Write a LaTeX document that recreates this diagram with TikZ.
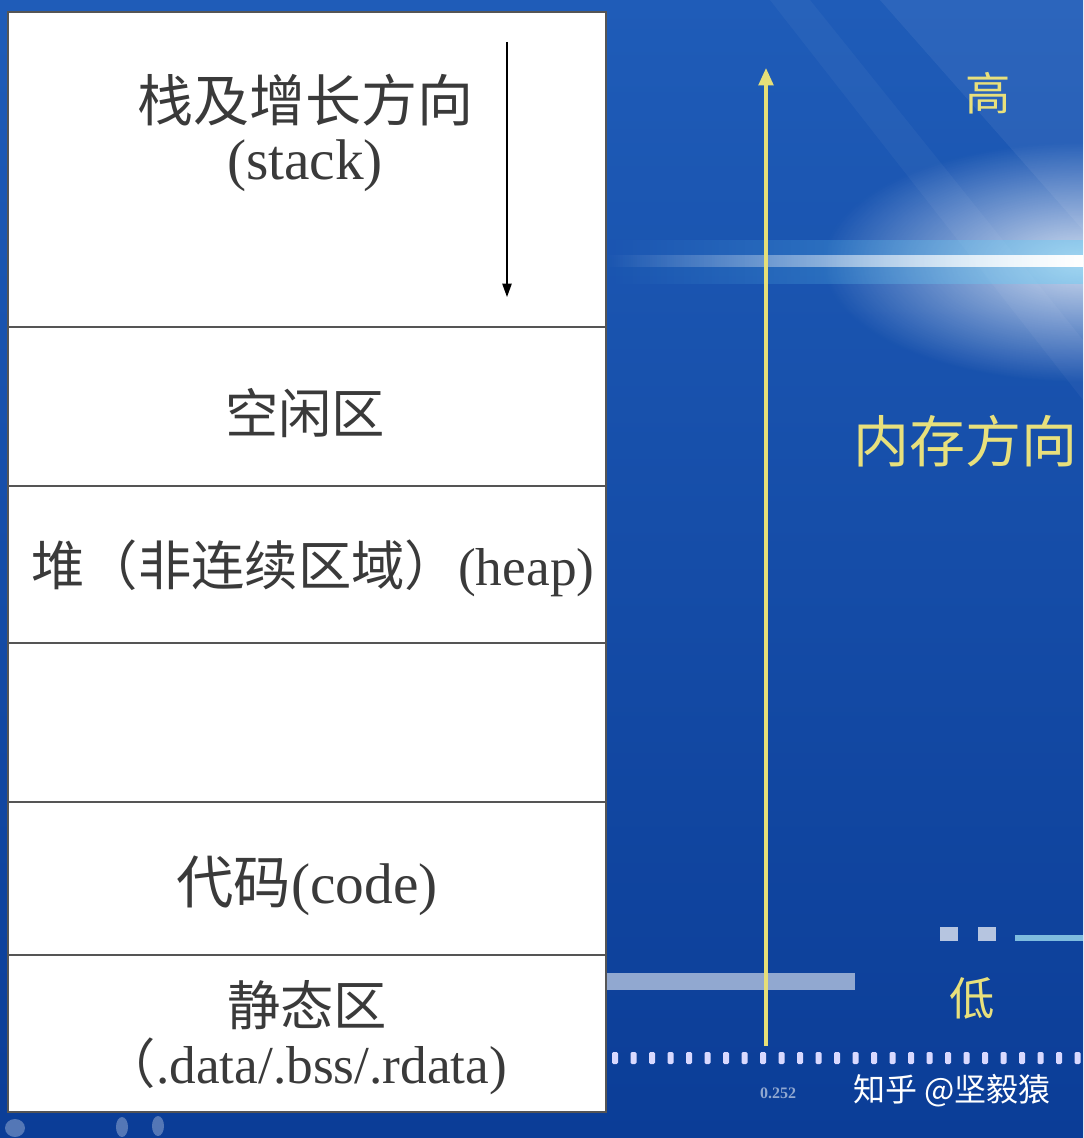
\documentclass[tikz,border=0pt]{standalone}
\usepackage{fontspec}
\setmainfont{Liberation Serif}
\newfontfamily\cjk{Noto Sans CJK SC}
\usetikzlibrary{arrows.meta,fadings}
\definecolor{bgtop}{HTML}{1F5CB8}
\definecolor{bgbot}{HTML}{0B3D97}
\definecolor{boxtext}{HTML}{3A3A3A}
\definecolor{gridline}{HTML}{555555}
\definecolor{axisyellow}{HTML}{E6DF78}
\definecolor{labelyellow}{HTML}{E8E07C}
\tikzfading[name=glowfade, inner color=transparent!0, outer color=transparent!100]
\tikzfading[name=beamfade, left color=transparent!100, right color=transparent!0]
\tikzset{
  region/.style={draw=gridline, line width=1.5pt, fill=white},
  boxlabel/.style={text=boxtext, align=center, inner sep=0pt},
  ylabel/.style={text=labelyellow, inner sep=0pt},
  growarrow/.style={draw=black, line width=1pt, -{Triangle[length=10pt,width=7pt]}},
  memarrow/.style={draw=axisyellow, line width=2.4pt, -{Triangle[length=13pt,width=11pt]}},
  tick/.style={fill=white!85!blue, rounded corners=1pt}
}
\begin{document}
\begin{tikzpicture}[x=0.75pt,y=-0.75pt]
\useasboundingbox (0,0) rectangle (1083,1138);
% background
\shade[top color=bgtop, bottom color=bgbot] (0,0) rectangle (1083,1138);
\fill[white, opacity=0.06] (880,0) -- (1083,0) -- (1083,230) -- cycle;
\fill[white, opacity=0.04] (810,0) -- (1083,340) -- (1083,400) -- (770,0) -- cycle;
\fill[white, path fading=glowfade, opacity=0.8] (1083,262) ellipse [x radius=260, y radius=120];
\fill[cyan!60!white, path fading=beamfade, opacity=0.45] (606,240) rectangle (1083,284);
\fill[white, path fading=beamfade] (606,255) rectangle (1083,267);
% bottom decorations
\fill[white!55!bgbot] (606,973) rectangle (855,990);
\fill[white!70!bgbot] (940,927) rectangle (958,941);
\fill[white!70!bgbot] (978,927) rectangle (996,941);
\fill[white!55!cyan!80!bgbot] (1015,935) rectangle (1083,941);
\foreach \i in {0,...,25} {\fill[tick] (612+18.5*\i,1052) rectangle ++(6,12);}
\fill[white!30!bgbot] (15,1128) ellipse [x radius=10, y radius=9];
\fill[white!30!bgbot] (122,1127) ellipse [x radius=6, y radius=10];
\fill[white!30!bgbot] (158,1126) ellipse [x radius=6, y radius=10];
\node[text=white!55!bgbot, font=\fontsize{12pt}{13pt}\selectfont\bfseries] (num) at (778,1093) {0.252};
% memory regions
\draw[region] (8,12) rectangle (606,327);
\draw[region] (8,327) rectangle (606,486);
\draw[region] (8,486) rectangle (606,643);
\draw[region] (8,643) rectangle (606,802);
\draw[region] (8,802) rectangle (606,955);
\draw[region] (8,955) rectangle (606,1112);
% texts
\node[boxlabel, font=\fontsize{42pt}{48pt}\selectfont] (stackzh) at (305,100) {\cjk 栈及增长方向};
\node[boxlabel, font=\fontsize{43pt}{48pt}\selectfont] (stacken) at (305,166) {(stack)};
\node[boxlabel, font=\fontsize{40pt}{44pt}\selectfont] (free) at (305,413) {\cjk 空闲区};
\node[boxlabel, font=\fontsize{40pt}{44pt}\selectfont] (heap) at (313,568) {{\cjk 堆（非连续区域）}(heap)};
\node[boxlabel, font=\fontsize{43pt}{48pt}\selectfont] (code) at (307,886) {{\cjk 代码}(code)};
\node[boxlabel, font=\fontsize{40pt}{46pt}\selectfont] (static) at (307,1005) {\cjk 静态区};
\node[boxlabel, font=\fontsize{40pt}{44pt}\selectfont] (staticen) at (305,1066) {{\cjk （}.data/.bss/.rdata)};
% stack growth arrow
\coordinate (sg1) at (507,42);
\coordinate (sg2) at (507,297);
\draw[growarrow] (sg1) -- (sg2);
% memory direction axis
\coordinate (ax1) at (766,1046);
\coordinate (ax2) at (766,68);
\draw[memarrow] (ax1) -- (ax2);
\node[ylabel, font=\fontsize{34pt}{38pt}\selectfont] (high) at (988,93) {\cjk 高};
\node[ylabel, font=\fontsize{42pt}{46pt}\selectfont, anchor=west] (memdir) at (853,441) {\cjk 内存方向};
\node[ylabel, font=\fontsize{34pt}{38pt}\selectfont] (low) at (972,998) {\cjk 低};
% watermark
\node[text=white, font=\fontsize{24pt}{28pt}\selectfont, anchor=west, inner sep=0pt] (wm) at (853,1091) {\cjk 知乎 @坚毅猿};
\end{tikzpicture}
\end{document}
